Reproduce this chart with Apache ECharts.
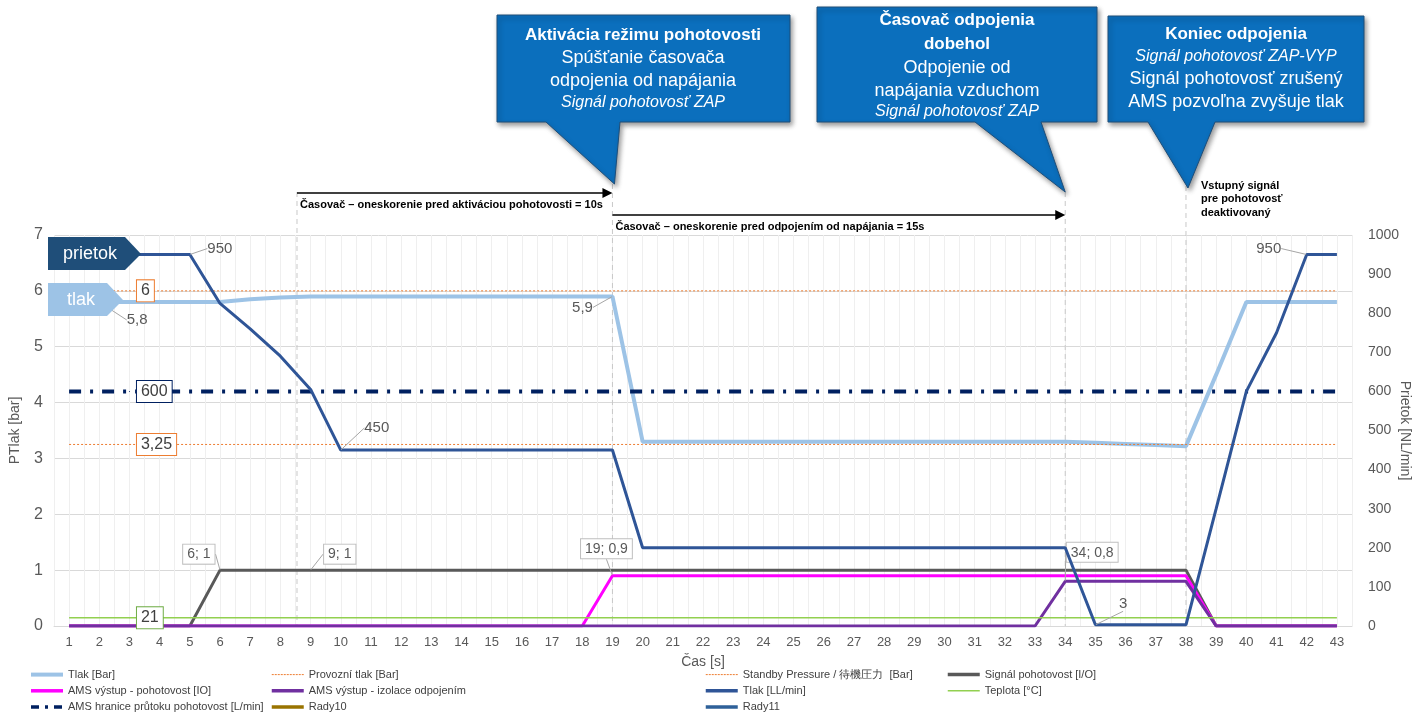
<!DOCTYPE html>
<html><head><meta charset="utf-8">
<script src="https://cdn.jsdelivr.net/npm/echarts@6/dist/echarts.min.js"></script>
<style>html,body{margin:0;padding:0;background:#fff}#c{width:1415px;height:717px}</style>
</head><body><div id="c"></div>
<script>
// ---------- DATA ----------
const time = [1,2,3,4,5,6,7,8,9,10,11,12,13,14,15,16,17,18,19,20,21,22,23,24,25,26,27,28,29,30,31,32,33,34,35,36,37,38,39,40,41,42,43];
const tlakBar = [5.8,5.8,5.8,5.8,5.8,5.8,5.85,5.88,5.9,5.9,5.9,5.9,5.9,5.9,5.9,5.9,5.9,5.9,5.9,3.3,3.3,3.3,3.3,3.3,3.3,3.3,3.3,3.3,3.3,3.3,3.3,3.3,3.3,3.3,3.28,3.26,3.24,3.22,4.5,5.8,5.8,5.8,5.8];
const provozniTlak = [6,6,6,6,6,6,6,6,6,6,6,6,6,6,6,6,6,6,6,6,6,6,6,6,6,6,6,6,6,6,6,6,6,6,6,6,6,6,6,6,6,6,6];
const standbyPressure = [3.25,3.25,3.25,3.25,3.25,3.25,3.25,3.25,3.25,3.25,3.25,3.25,3.25,3.25,3.25,3.25,3.25,3.25,3.25,3.25,3.25,3.25,3.25,3.25,3.25,3.25,3.25,3.25,3.25,3.25,3.25,3.25,3.25,3.25,3.25,3.25,3.25,3.25,3.25,3.25,3.25,3.25,3.25];
const signalPohotovost = [0,0,0,0,0,1,1,1,1,1,1,1,1,1,1,1,1,1,1,1,1,1,1,1,1,1,1,1,1,1,1,1,1,1,1,1,1,1,0,0,0,0,0];
const amsPohotovost = [0,0,0,0,0,0,0,0,0,0,0,0,0,0,0,0,0,0,0.9,0.9,0.9,0.9,0.9,0.9,0.9,0.9,0.9,0.9,0.9,0.9,0.9,0.9,0.9,0.9,0.9,0.9,0.9,0.9,0,0,0,0,0];
const amsIzolace = [0,0,0,0,0,0,0,0,0,0,0,0,0,0,0,0,0,0,0,0,0,0,0,0,0,0,0,0,0,0,0,0,0,0.8,0.8,0.8,0.8,0.8,0,0,0,0,0];
const tlakLL = [950,950,950,950,950,825,760,690,605,450,450,450,450,450,450,450,450,450,450,200,200,200,200,200,200,200,200,200,200,200,200,200,200,200,3,3,3,3,300,600,750,950,950];
const teplota = [21,21,21,21,21,21,21,21,21,21,21,21,21,21,21,21,21,21,21,21,21,21,21,21,21,21,21,21,21,21,21,21,21,21,21,21,21,21,21,21,21,21,21];
const amsHranice = [600,600,600,600,600,600,600,600,600,600,600,600,600,600,600,600,600,600,600,600,600,600,600,600,600,600,600,600,600,600,600,600,600,600,600,600,600,600,600,600,600,600,600];
const rady10 = [];
const rady11 = [];
const leftTicks = [0,1,2,3,4,5,6,7];
const rightTicks = [0,100,200,300,400,500,600,700,800,900,1000];
const markerTimes = [8.55, 19, 34, 38];

// ---------- STYLE ----------
const FONT = 'Liberation Sans, Arial, sans-serif';
const comma = v => String(v).replace('.', ',');
const plain = {color:'#595959', fontSize:15, fontFamily:FONT};
const box = {color:'#595959', fontSize:14, fontFamily:FONT, backgroundColor:'#fff', borderColor:'#bfbfbf', borderWidth:1, padding:[3,4,2,4]};
const flagBox = c => ({color:'#404040', fontSize:16, fontFamily:FONT, backgroundColor:'#fff', borderColor:c, borderWidth:1, padding:[3,4,2,4], position:'right', distance:7});
const pair = p => p.value[0] + '; ' + comma(p.value[1]);
const val = p => comma(p.value[1]);

function mk(name, values, yIdx, ls, labels, extra) {
  labels = labels || {};
  const data = time.map((t, i) => {
    const it = {value:[t, values[i]]};
    const L = labels[i];
    if (L) {
      it.symbol = 'circle'; it.symbolSize = 1;
      it.label = Object.assign({show:true}, L.style);
      if (L.line) it.labelLine = {show:true};
    }
    return it;
  });
  return Object.assign({
    type:'line', name, data, yAxisIndex:yIdx, symbol:'none', smooth:false,
    lineStyle:ls, itemStyle:{color:ls.color}, z:2,
    emphasis:{disabled:true},
    labelLine:{show:false, lineStyle:{color:'#a6a6a6', width:1}},
    labelLayout: p => { const L = labels[p.dataIndex]; return L && L.move ? {dx:L.move[0], dy:L.move[1]} : {}; }
  }, extra || {});
}

const series = [
  mk('Tlak [Bar]', tlakBar, 0, {color:'#9dc3e6', width:4}, {
    1:{style:Object.assign({position:'right', formatter:val}, plain), move:[22,18], line:true},
    18:{style:Object.assign({position:'left', formatter:val}, plain), move:[-14,11], line:true}
  }),
  mk('Provozní tlak [Bar]', provozniTlak, 0, {color:'#ed7d31', width:1, type:[2,2]}, {
    2:{style:Object.assign({formatter:val}, flagBox('#ed7d31'))}
  }),
  mk('Standby Pressure / 待機圧力  [Bar]', standbyPressure, 0, {color:'#ed7d31', width:1, type:[2,2]}, {
    2:{style:Object.assign({formatter:val}, flagBox('#ed7d31'))}
  }),
  mk('Signál pohotovost [I/O]', signalPohotovost, 0, {color:'#595959', width:3}, {
    5:{style:Object.assign({position:'left', formatter:pair}, box), move:[0,-16], line:true},
    8:{style:Object.assign({position:'right', formatter:pair}, box), move:[8,-16], line:true}
  }),
  mk('AMS výstup - pohotovost [IO]', amsPohotovost, 0, {color:'#ff00ff', width:3}, {
    18:{style:Object.assign({position:'top', formatter:pair}, box), move:[-6,-12], line:true}
  }),
  mk('AMS výstup - izolace odpojením', amsIzolace, 0, {color:'#7030a0', width:3}, {
    33:{style:Object.assign({position:'top', formatter:pair}, box), move:[27,-14], line:true}
  }),
  mk('Tlak [LL/min]', tlakLL, 1, {color:'#2f5597', width:3}, {
    4:{style:Object.assign({position:'right', formatter:val}, plain), move:[12,-6], line:true},
    9:{style:Object.assign({position:'right', formatter:val}, plain), move:[18,-22], line:true},
    34:{style:Object.assign({position:'right', formatter:val}, plain), move:[18,-21], line:true},
    41:{style:Object.assign({position:'left', formatter:val}, plain), move:[-20,-6], line:true}
  }, {z:5}),
  mk('Teplota [°C]', teplota, 1, {color:'#92d050', width:1.5}, {
    2:{style:Object.assign({formatter:val}, flagBox('#70ad47'))}
  }),
  mk('AMS hranice průtoku pohotovost [L/min]', amsHranice, 1, {color:'#002060', width:4, type:[12,9,3,9], cap:'butt'}, {
    2:{style:Object.assign({formatter:val}, flagBox('#002060'))}
  }),
  {type:'line', name:'Rady10', data:rady10, symbol:'none', lineStyle:{color:'#997300', width:3}, itemStyle:{color:'#997300'}},
  {type:'line', name:'Rady11', data:rady11, symbol:'none', lineStyle:{color:'#2e6099', width:3}, itemStyle:{color:'#2e6099'}}
];

const legendBase = {orient:'vertical', top:669, padding:0, itemWidth:32, itemHeight:14, itemGap:5,
  itemStyle:{opacity:0},
  textStyle:{fontFamily:FONT, fontSize:11, color:'#404040'}, selectedMode:false};
const li = (name, w, dash) => ({name, lineStyle:dash ? {width:w, type:dash} : {width:w}});
const legends = [
  Object.assign({left:29, data:[li('Tlak [Bar]',4), li('AMS výstup - pohotovost [IO]',3.5), li('AMS hranice průtoku pohotovost [L/min]',3.5,[8,6,3,6])]}, legendBase),
  Object.assign({left:270, data:[li('Provozní tlak [Bar]',1,[2,1]), li('AMS výstup - izolace odpojením',3.5), li('Rady10',3.5)]}, legendBase),
  Object.assign({left:704, data:[li('Standby Pressure / 待機圧力  [Bar]',1,[2,1]), li('Tlak [LL/min]',3.5), li('Rady11',3.5)]}, legendBase),
  Object.assign({left:946, data:[li('Signál pohotovost [I/O]',3.5), li('Teplota [°C]',1.5)]}, legendBase)
];

const chart = echarts.init(document.getElementById('c'), null, {renderer:'canvas'});
chart.setOption({
  animation:false,
  backgroundColor:'#fff',
  grid:{left:54, right:63, top:235, bottom:91, containLabel:false, outerBoundsMode:'none'},
  legend:legends,
  xAxis:{type:'value', min:0.5, max:43.5, interval:0.5,
    name:'Čas [s]', nameLocation:'middle', nameGap:29,
    nameTextStyle:{fontFamily:FONT, fontSize:14, color:'#595959'},
    axisLine:{show:true, lineStyle:{color:'#d9d9d9'}}, axisTick:{show:false},
    axisLabel:{fontFamily:FONT, fontSize:13, color:'#595959', margin:10,
      formatter: v => (time.indexOf(v) >= 0 ? String(v) : '')},
    splitLine:{show:true, lineStyle:{color:'#efefef', width:1}}},
  yAxis:[
    {type:'value', min:leftTicks[0], max:leftTicks[leftTicks.length-1], interval:1,
      name:'PTlak [bar]', nameLocation:'middle', nameGap:32, nameMoveOverlap:false,
      nameTextStyle:{fontFamily:FONT, fontSize:14, color:'#595959'},
      axisLine:{show:false}, axisTick:{show:false},
      axisLabel:{fontFamily:FONT, fontSize:16, color:'#595959', margin:11},
      splitLine:{show:true, lineStyle:{color:'#d9d9d9'}}},
    {type:'value', min:rightTicks[0], max:rightTicks[rightTicks.length-1], interval:100, position:'right',
      name:'Prietok [NL/min]', nameLocation:'middle', nameGap:53, nameRotate:-90, nameMoveOverlap:false,
      nameTextStyle:{fontFamily:FONT, fontSize:14, color:'#595959', verticalAlign:'middle'},
      axisLine:{show:false}, axisTick:{show:false},
      axisLabel:{fontFamily:FONT, fontSize:14, color:'#595959', margin:16, formatter: v => String(v)},
      splitLine:{show:false}}
  ],
  series:series
});

// ---------- ANNOTATIONS ----------
const px = t => chart.convertToPixel({xAxisIndex:0}, t);
const yBottom = chart.convertToPixel({yAxisIndex:0}, 0);
const mx = markerTimes.map(px);
const tops = [192, 184, 192, 186];
const g = [];
mx.forEach((x, i) => g.push({type:'line', z:1, silent:true,
  shape:{x1:x, y1:tops[i], x2:x, y2:yBottom}, style:{stroke:'#c8c8c8', lineWidth:1, lineDash:[5,4]}}));
function arrow(x1, x2, y) {
  g.push({type:'line', z:50, shape:{x1:x1, y1:y, x2:x2-6, y2:y}, style:{stroke:'#000', lineWidth:1.5}});
  g.push({type:'polygon', z:50, shape:{points:[[x2-10,y-5],[x2,y],[x2-10,y+5]]}, style:{fill:'#000'}});
}
arrow(mx[0], mx[1], 193);
arrow(mx[1], mx[2], 215);
const smallBold = 'bold 11px ' + FONT;
g.push({type:'text', z:50, style:{x:mx[0]+3, y:205, text:'Časovač – oneskorenie pred aktiváciou pohotovosti = 10s', font:smallBold, fill:'#000', verticalAlign:'middle'}});
g.push({type:'text', z:50, style:{x:mx[1]+3, y:227, text:'Časovač – oneskorenie pred odpojením od napájania = 15s', font:smallBold, fill:'#000', verticalAlign:'middle'}});
g.push({type:'text', z:50, style:{x:mx[3]+15, y:199, text:'Vstupný signál\npre pohotovosť\ndeaktivovaný', font:smallBold, fill:'#000', verticalAlign:'middle', lineHeight:13.5}});

function callout(pts, lines) {
  g.push({type:'polygon', z:60, shape:{points:pts},
    style:{fill:'#0b6fbd', stroke:'#1f4e79', lineWidth:1, shadowBlur:5, shadowColor:'rgba(0,0,0,0.4)', shadowOffsetX:2, shadowOffsetY:3}});
  lines.forEach(l => g.push({type:'text', z:61, style:{x:l[0], y:l[1], text:l[2], font:l[3], fill:'#fff', align:'center', verticalAlign:'middle'}}));
}
const B = 'bold 17px ' + FONT, R = '18px ' + FONT, I = 'italic 16px ' + FONT;
callout([[497,15],[790,15],[790,122],[620,122],[mx[1]+2,184],[546,122],[497,122]], [
  [643,35,'Aktivácia režimu pohotovosti',B],[643,58,'Spúšťanie časovača',R],[643,81,'odpojenia od napájania',R],[643,103,'Signál pohotovosť ZAP',I]]);
callout([[817,7],[1097,7],[1097,122],[1041,122],[mx[2],192],[975,122],[817,122]], [
  [957,20,'Časovač odpojenia',B],[957,44,'dobehol',B],[957,68,'Odpojenie od',R],[957,91,'napájania vzduchom',R],[957,112,'Signál pohotovosť ZAP',I]]);
callout([[1108,16],[1364,16],[1364,122],[1215,122],[mx[3]+2,188],[1148,122],[1108,122]], [
  [1236,34,'Koniec odpojenia',B],[1236,57,'Signál pohotovosť ZAP-VYP',I],[1236,79,'Signál pohotovosť zrušený',R],[1236,102,'AMS pozvoľna zvyšuje tlak',R]]);

// tags
g.push({type:'polygon', z:70, shape:{points:[[48,237],[125,237],[141,254],[125,270],[48,270]]}, style:{fill:'#1f4e79'}});
g.push({type:'text', z:71, style:{x:90, y:254, text:'prietok', font:'18px ' + FONT, fill:'#fff', align:'center', verticalAlign:'middle'}});
g.push({type:'polygon', z:70, shape:{points:[[48,283],[107,283],[123,300],[107,316],[48,316]]}, style:{fill:'#9dc3e6'}});
g.push({type:'text', z:71, style:{x:81, y:300, text:'tlak', font:'18px ' + FONT, fill:'#fff', align:'center', verticalAlign:'middle'}});

chart.setOption({graphic:{elements:g}});
</script></body></html>
